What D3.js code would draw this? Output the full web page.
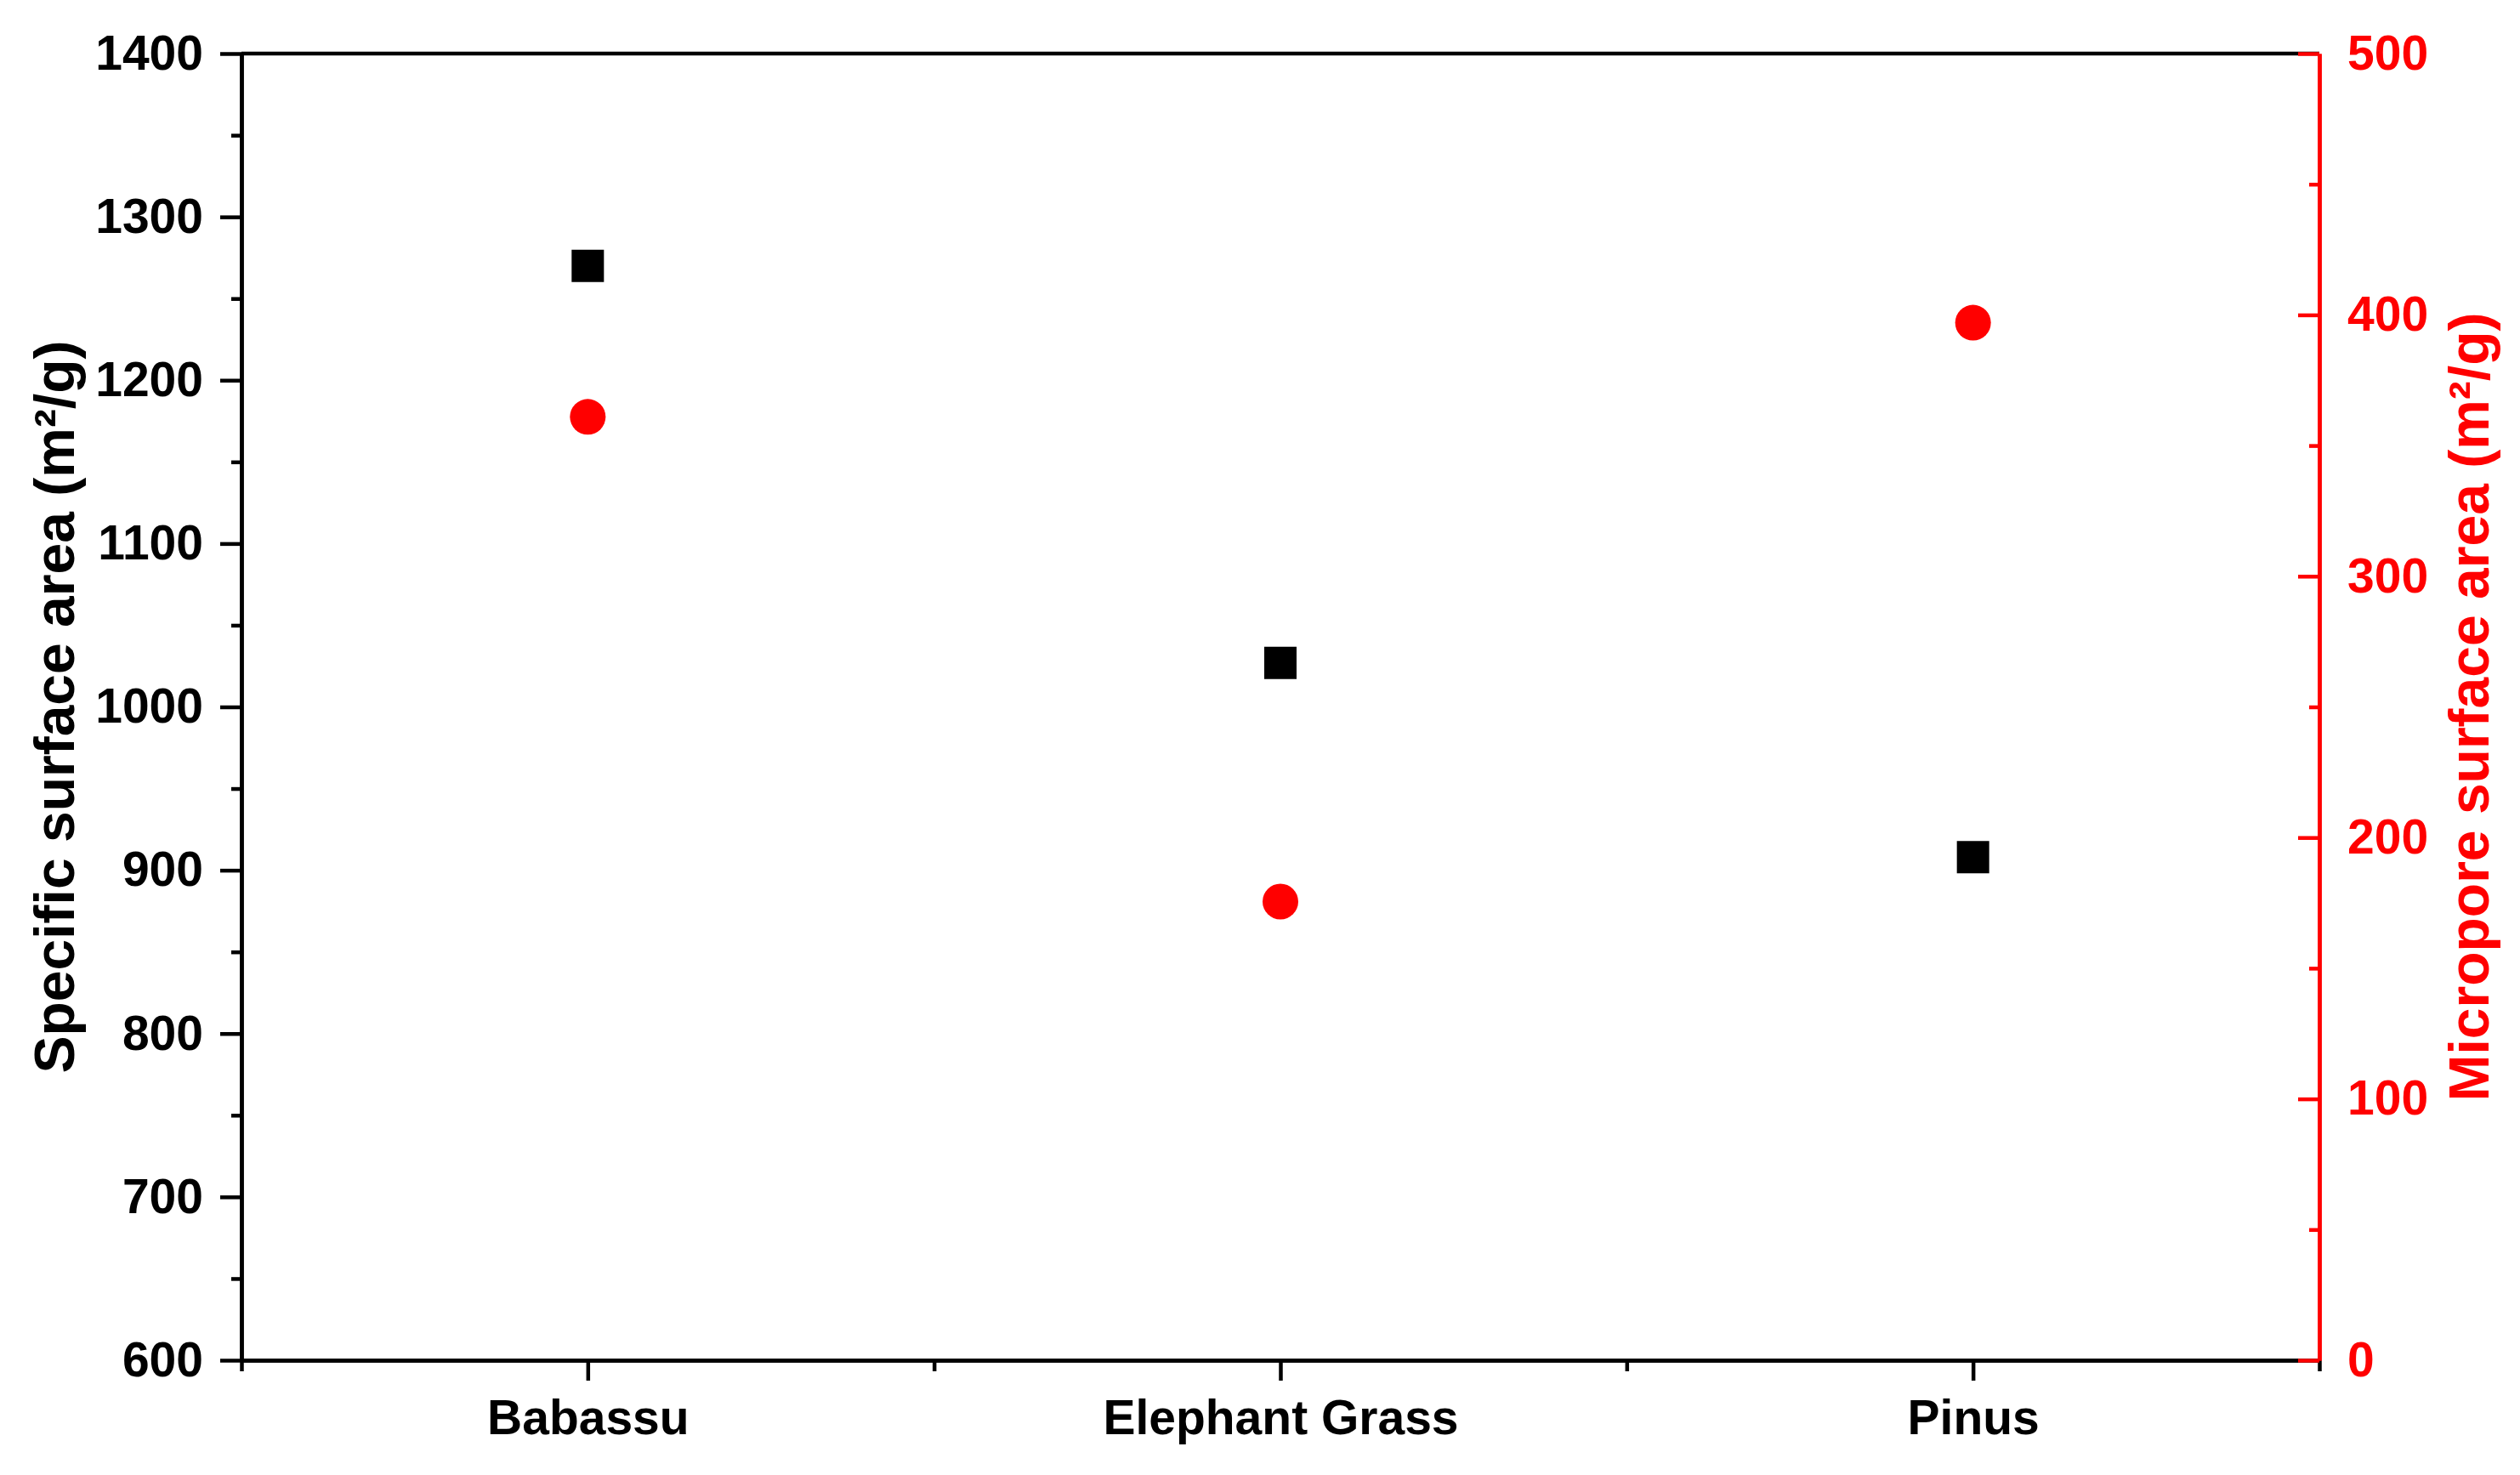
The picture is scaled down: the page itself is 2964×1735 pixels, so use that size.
<!DOCTYPE html>
<html>
<head>
<meta charset="utf-8">
<script src="https://cdn.jsdelivr.net/npm/d3@7"></script>
<style>
  body { margin: 0; background: #fff; }
  text { font-family: "Liberation Sans", Arial, sans-serif; font-weight: bold; }
</style>
</head>
<body>
<svg id="chart"></svg>
<script>
// data
const categories = ["Babassu", "Elephant Grass", "Pinus"];
const specificArea = [1270, 1027, 908];
const microporeArea = [361, 175.5, 397];
const leftTicks = [600, 700, 800, 900, 1000, 1100, 1200, 1300, 1400];
const leftMinor = [650, 750, 850, 950, 1050, 1150, 1250, 1350];
const rightTicks = [0, 100, 200, 300, 400, 500];
const rightMinor = [50, 150, 250, 350, 450];

const W = 2964, H = 1735;
const plotLeft = 284, plotRight = 2728, plotTop = 63, plotBottom = 1600;
const lw = 4.5;

const svg = d3.select("#chart")
              .attr("width", W)
              .attr("height", H);

const x = d3.scaleLinear().domain([0.5, 3.5]).range([plotLeft, plotRight]);
const yL = d3.scaleLinear().domain([600, 1400]).range([plotBottom, plotTop]);
const yR = d3.scaleLinear().domain([0, 500]).range([plotBottom, plotTop]);

function styleAxis(g, color, size) {
    g.select(".domain").attr("stroke", color).attr("stroke-width", lw);
    g.selectAll(".tick line").attr("stroke", color).attr("stroke-width", lw);
    g.selectAll(".tick text").attr("fill", color).attr("font-size", size + "px");
}

// top frame line
svg.append("line")
   .attr("x1", plotLeft).attr("x2", plotRight)
   .attr("y1", plotTop).attr("y2", plotTop)
   .attr("stroke", "#000").attr("stroke-width", lw);

// bottom axis
svg.append("g")
   .attr("transform", `translate(0,${plotBottom})`)
   .call(d3.axisBottom(x).tickValues([0.5, 1.5, 2.5, 3.5]).tickSize(13).tickSizeOuter(0).tickFormat(""))
   .call(g => styleAxis(g, "#000", 57));

svg.append("g")
   .attr("transform", `translate(0,${plotBottom})`)
   .call(d3.axisBottom(x).tickValues([1, 2, 3]).tickSize(24).tickSizeOuter(0)
           .tickPadding(23).tickFormat(d => categories[d - 1]))
   .call(g => styleAxis(g, "#000", 57));

// left axis
svg.append("g")
   .attr("transform", `translate(${plotLeft},0)`)
   .call(d3.axisLeft(yL).tickValues(leftMinor).tickSize(12).tickSizeOuter(0).tickFormat(""))
   .call(g => styleAxis(g, "#000", 57));

svg.append("g")
   .attr("transform", `translate(${plotLeft},0)`)
   .call(d3.axisLeft(yL).tickValues(leftTicks).tickSize(25).tickSizeOuter(0)
           .tickPadding(20).tickFormat(d3.format("d")))
   .call(g => styleAxis(g, "#000", 57));

// right axis (red, ticks inward)
svg.append("g")
   .attr("transform", `translate(${plotRight},0)`)
   .call(d3.axisRight(yR).tickValues(rightMinor).tickSize(-12).tickSizeOuter(0).tickFormat(""))
   .call(g => styleAxis(g, "#ff0000", 57));

svg.append("g")
   .attr("transform", `translate(${plotRight},0)`)
   .call(d3.axisRight(yR).tickValues(rightTicks).tickSize(-25).tickSizeOuter(0)
           .tickPadding(33).tickFormat(d3.format("d")))
   .call(g => styleAxis(g, "#ff0000", 57));

// axis titles
svg.append("text")
   .attr("transform", `translate(87,${(plotTop + plotBottom) / 2}) rotate(-90)`)
   .attr("text-anchor", "middle")
   .attr("font-size", "66px")
   .attr("fill", "#000")
   .text("Specific surface area (m\u00B2/g)");

svg.append("text")
   .attr("transform", `translate(2927,${(plotTop + plotBottom) / 2}) rotate(-90)`)
   .attr("text-anchor", "middle")
   .attr("font-size", "66px")
   .attr("fill", "#ff0000")
   .text("Micropore surface area (m\u00B2/g)");

// squares: specific surface area
svg.selectAll(".sq")
   .data(specificArea)
   .enter().append("path")
   .attr("class", "sq")
   .attr("d", d3.symbol(d3.symbolSquare, 38 * 38))
   .attr("transform", (d, i) => `translate(${x(i + 1)},${yL(d)})`)
   .attr("fill", "#000");

// circles: micropore surface area
svg.selectAll(".dot")
   .data(microporeArea)
   .enter().append("circle")
   .attr("class", "dot")
   .attr("cx", (d, i) => x(i + 1))
   .attr("cy", d => yR(d))
   .attr("r", 21)
   .attr("fill", "#ff0000");
</script>
</body>
</html>
